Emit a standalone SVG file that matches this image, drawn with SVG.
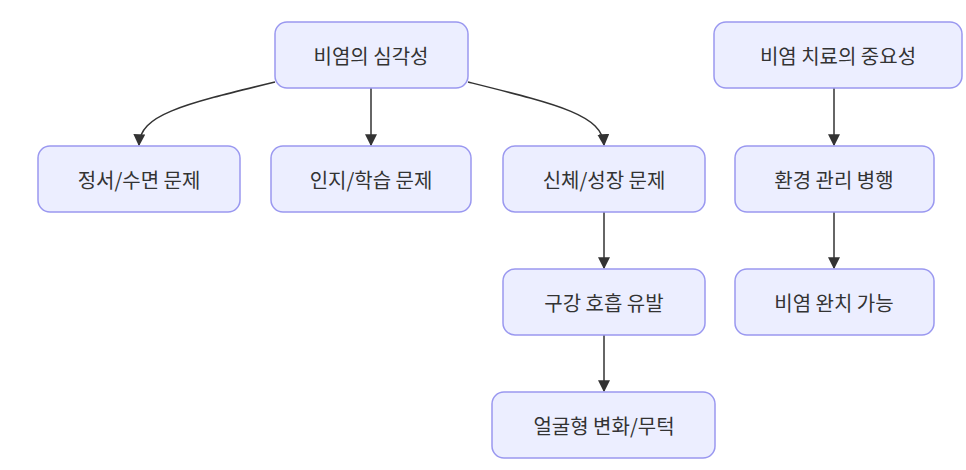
<svg xmlns="http://www.w3.org/2000/svg" width="966" height="470" viewBox="0 0 966 470">
<style>
.n rect{fill:#ECEEFF;stroke:#9A98F0;stroke-width:1.5}
.n text{font-family:"Noto Sans CJK KR","Noto Sans",sans-serif;font-size:20px;fill:#333;text-anchor:middle;dominant-baseline:central}
.e path{fill:none;stroke:#333;stroke-width:1.5;marker-end:url(#a)}
</style>
<defs><marker id="a" viewBox="0 0 10 10" refX="9" refY="5" markerWidth="8" markerHeight="8" orient="auto"><path d="M0,0L10,5L0,10z" fill="#333"/></marker></defs>
<rect width="966" height="470" fill="#fff"/>
<g class="e">
<path d="M275,82 C180,105 140,115 139,145"/>
<path d="M371,88 V145"/>
<path d="M468,82 C560,105 602,115 604,145"/>
<path d="M604,212 V268"/>
<path d="M604,335 V391"/>
<path d="M834,88 V145"/>
<path d="M834,212 V268"/>
</g>
<g id="n1" class="n"><rect x="275" y="22" width="193" height="66" rx="12"/><text x="371" y="55">비염의 심각성</text></g>
<g id="n2" class="n"><rect x="714" y="22" width="248" height="66" rx="12"/><text x="838" y="55">비염 치료의 중요성</text></g>
<g id="n3" class="n"><rect x="38" y="146" width="202" height="66" rx="12"/><text x="139" y="179">정서/수면 문제</text></g>
<g id="n4" class="n"><rect x="271" y="146" width="200" height="66" rx="12"/><text x="371" y="179">인지/학습 문제</text></g>
<g id="n5" class="n"><rect x="503" y="146" width="202" height="66" rx="12"/><text x="604" y="179">신체/성장 문제</text></g>
<g id="n6" class="n"><rect x="735" y="146" width="199" height="66" rx="12"/><text x="834" y="179">환경 관리 병행</text></g>
<g id="n7" class="n"><rect x="503" y="269" width="202" height="66" rx="12"/><text x="604" y="302">구강 호흡 유발</text></g>
<g id="n8" class="n"><rect x="735" y="269" width="199" height="66" rx="12"/><text x="834" y="302">비염 완치 가능</text></g>
<g id="n9" class="n"><rect x="492" y="392" width="223" height="66" rx="12"/><text x="604" y="425">얼굴형 변화/무턱</text></g>
</svg>
